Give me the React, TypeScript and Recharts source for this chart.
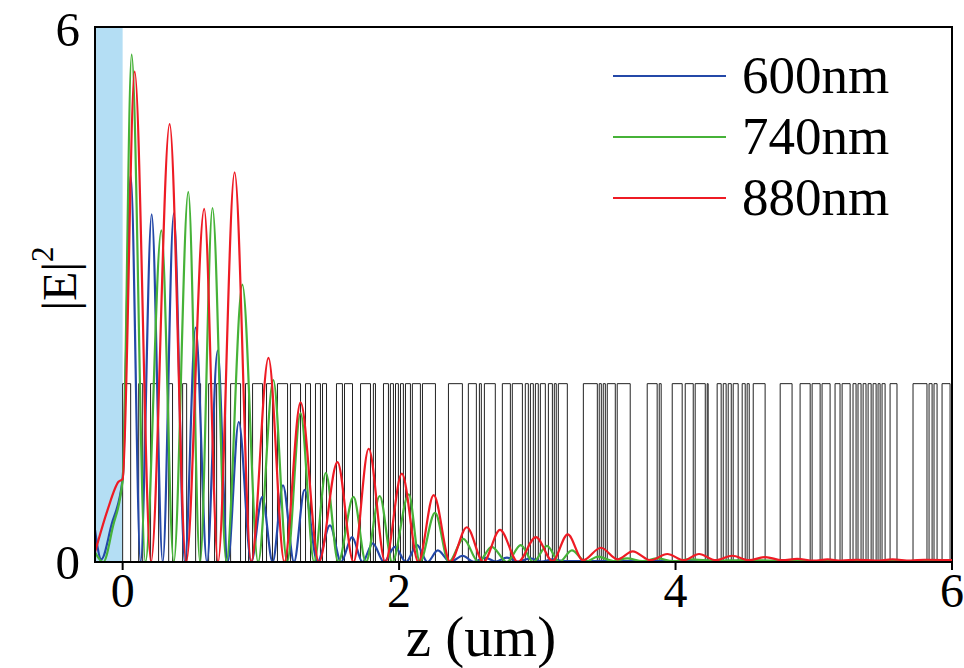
import React from 'react';
import { LineChart, Line, XAxis, YAxis, ReferenceArea, Label } from 'recharts';

// ---------- data ----------
const xTicks = [0, 2, 4, 6];
const yTicks = [0, 6];
const seriesNames = ['600nm', '740nm', '880nm'];
const seriesColors = ['#2448a8', '#46b238', '#ee1b24'];

// |E|^2 along z (um) for each wavelength: peaks and troughs
const blue600: [number, number][] = [
  [-0.2, 0.36], [-0.155, 0.03], [-0.08, 0.42], [0, 0.93], [0.058, 4.34], [0.13, 0],
  [0.21, 3.9], [0.29, 0], [0.37, 3.91], [0.45, 0], [0.528, 2.63], [0.61, 0],
  [0.687, 2.37], [0.76, 0], [0.84, 1.57], [0.93, 0], [1.01, 0.73], [1.085, 0],
  [1.16, 0.86], [1.24, 0], [1.316, 0.81], [1.41, 0], [1.5, 0.41], [1.58, 0],
  [1.66, 0.28], [1.735, 0], [1.81, 0.21], [1.89, 0], [1.97, 0.17], [2.05, 0],
  [2.13, 0.19], [2.205, 0], [2.28, 0.13], [2.37, 0], [2.46, 0.07], [2.54, 0.003],
  [2.62, 0.05], [2.7, 0.005], [2.78, 0.05], [2.86, 0.005], [2.95, 0.04], [3.03, 0.005],
  [3.11, 0.03], [3.2, 0.01], [3.5, 0.01], [4.0, 0.01], [5.0, 0.01], [6.0, 0.01],
];

const green740: [number, number][] = [
  [-0.2, 0.11], [-0.14, 0], [-0.07, 0.4], [0, 0.92], [0.065, 5.69], [0.165, 0],
  [0.28, 3.72], [0.37, 0], [0.475, 4.15], [0.56, 0], [0.65, 3.97], [0.75, 0],
  [0.866, 3.11], [0.98, 0], [1.09, 2.04], [1.19, 0], [1.287, 1.67], [1.385, 0],
  [1.47, 1.0], [1.56, 0], [1.67, 0.73], [1.76, 0], [1.86, 0.74], [1.95, 0],
  [2.07, 0.76], [2.15, 0], [2.26, 0.55], [2.36, 0], [2.465, 0.26], [2.575, 0],
  [2.67, 0.17], [2.78, 0], [2.88, 0.19], [2.97, 0], [3.07, 0.18], [3.16, 0],
  [3.25, 0.13], [3.35, 0.005], [3.44, 0.06], [3.55, 0.01], [3.65, 0.04], [3.76, 0.01],
  [3.87, 0.04], [3.98, 0.01], [4.1, 0.03], [4.3, 0.015], [4.5, 0.02], [5.0, 0.01], [6.0, 0.01],
];

const red880: [number, number][] = [
  [-0.2, 0.11], [-0.11, 0.58], [-0.03, 0.9], [0, 0.93], [0.087, 5.5], [0.205, 0],
  [0.34, 4.91], [0.46, 0], [0.59, 3.96], [0.69, 0], [0.81, 4.37], [0.93, 0],
  [1.055, 2.29], [1.17, 0], [1.287, 1.79], [1.42, 0], [1.554, 1.12], [1.67, 0],
  [1.78, 1.27], [1.9, 0], [2.02, 0.99], [2.14, 0], [2.25, 0.75], [2.37, 0],
  [2.49, 0.39], [2.61, 0], [2.73, 0.36], [2.86, 0], [2.99, 0.28], [3.11, 0.01],
  [3.22, 0.31], [3.33, 0.02], [3.46, 0.16], [3.58, 0.03], [3.69, 0.12], [3.82, 0.02],
  [3.94, 0.09], [4.06, 0.02], [4.17, 0.09], [4.29, 0.02], [4.41, 0.07], [4.53, 0.02],
  [4.65, 0.055], [4.77, 0.02], [4.88, 0.035], [5.0, 0.015], [5.1, 0.03], [5.2, 0.015],
  [5.31, 0.025], [5.45, 0.015], [5.57, 0.03], [5.7, 0.015], [5.8, 0.025], [6.0, 0.02],
];

// high-index layers [start, end] in um
const layers: [number, number][] = [
  [0, 0.058], [0.116, 0.145], [0.202, 0.26], [0.333, 0.361], [0.434, 0.463],
  [0.528, 0.564], [0.622, 0.665], [0.68, 0.745], [0.781, 0.853], [0.889, 0.911],
  [0.94, 1.012], [1.041, 1.084], [1.12, 1.193], [1.214, 1.287], [1.323, 1.359],
  [1.395, 1.431], [1.446, 1.475], [1.547, 1.59], [1.605, 1.663], [1.721, 1.793],
  [1.814, 1.829], [1.887, 1.923], [1.937, 1.959], [1.974, 1.995], [2.01, 2.031],
  [2.046, 2.082], [2.096, 2.154], [2.169, 2.263], [2.357, 2.458], [2.501, 2.559],
  [2.581, 2.595], [2.617, 2.696], [2.747, 2.805], [2.819, 2.892], [2.913, 2.935],
  [2.95, 2.971], [2.986, 3.007], [3.022, 3.058], [3.08, 3.109], [3.123, 3.137],
  [3.152, 3.217], [3.333, 3.434], [3.448, 3.463], [3.477, 3.492], [3.506, 3.564],
  [3.578, 3.672], [3.795, 3.867], [3.882, 3.896], [3.976, 4.048], [4.07, 4.128],
  [4.142, 4.215], [4.229, 4.236], [4.301, 4.33], [4.345, 4.366], [4.381, 4.403],
  [4.417, 4.453], [4.482, 4.504], [4.518, 4.533], [4.562, 4.648], [4.757, 4.843],
  [4.901, 4.974], [4.988, 5.046], [5.06, 5.118], [5.154, 5.19], [5.205, 5.263],
  [5.284, 5.306], [5.32, 5.342], [5.357, 5.378], [5.393, 5.415], [5.429, 5.451],
  [5.465, 5.48], [5.494, 5.516], [5.552, 5.602], [5.718, 5.819], [5.834, 5.856],
  [5.87, 5.892], [5.928, 5.986],
];
const layerLevel = 2;

// ---------- helpers ----------
const toPoints = (arr: [number, number][]) => arr.map(([z, v]) => ({ z, v }));
const stepPoints = (spans: [number, number][]) => {
  const pts: { z: number; v: number }[] = [{ z: 0, v: 0 }];
  spans.forEach(([a, b]) => {
    pts.push({ z: a, v: layerLevel });
    pts.push({ z: b, v: 0 });
  });
  pts.push({ z: 6, v: 0 });
  return pts;
};

const FONT = '"Liberation Serif", "DejaVu Serif", serif';

const YLabel = (props: any) => {
  const vb = props.viewBox || { x: 8, y: 27, width: 87, height: 535 };
  const x = vb.x + 51;
  const y = vb.y + vb.height / 2 - 16;
  return (
    <text
      x={x}
      y={y}
      transform={`rotate(-90 ${x} ${y})`}
      textAnchor="middle"
      dominantBaseline="central"
      fontFamily={FONT}
      fontSize={48}
      fill="#000"
    >
      |E|<tspan dy={-17} fontSize={31}>2</tspan>
    </text>
  );
};

const XLabel = (props: any) => {
  const vb = props.viewBox || { x: 95, y: 562, width: 857, height: 100 };
  const x = vb.x + 386;
  const y = vb.y + 94;
  return (
    <text x={x} y={y} textAnchor="middle" fontFamily={FONT} fontSize={57} fill="#000">
      z (um)
    </text>
  );
};

const series = [blue600, green740, red880];

export default function App() {
  return (
    <div style={{ position: 'absolute', left: 0, top: 0, width: 964, height: 668 }}>
      <LineChart
        width={964}
        height={668}
        margin={{ top: 27, right: 12, left: 8, bottom: 6 }}
      >
        <XAxis
          type="number"
          dataKey="z"
          domain={[-0.2, 6]}
          ticks={xTicks}
          allowDataOverflow
          tickSize={8}
          tickMargin={3}
          height={100}
          axisLine={{ stroke: '#000', strokeWidth: 2 }}
          tickLine={{ stroke: '#000', strokeWidth: 2 }}
          tick={{ fill: '#000', fontSize: 48, fontFamily: FONT }}
        >
          <Label content={XLabel} />
        </XAxis>
        <YAxis
          type="number"
          domain={[0, 6]}
          ticks={yTicks}
          allowDataOverflow
          width={87}
          tickLine={false}
          tickMargin={9}
          axisLine={{ stroke: '#000', strokeWidth: 2 }}
          tick={{ fill: '#000', fontSize: 49, fontFamily: FONT }}
        >
          <Label content={YLabel} />
        </YAxis>
        <ReferenceArea x1={-0.2} x2={0} y1={0} y2={6} fill="#b4def4" fillOpacity={1} stroke="none" ifOverflow="hidden" />
        <Line
          data={stepPoints(layers)}
          dataKey="v"
          type="stepAfter"
          stroke="#222"
          strokeWidth={1}
          dot={false}
          isAnimationActive={false}
        />
        {series.map((s, i) => (
          <Line
            key={seriesNames[i]}
            data={toPoints(s)}
            dataKey="v"
            name={seriesNames[i]}
            type="monotone"
            stroke={seriesColors[i]}
            strokeWidth={2.2}
            dot={false}
            isAnimationActive={false}
          />
        ))}
        <ReferenceArea x1={-0.2} x2={6} y1={0} y2={6} fill="none" stroke="#000" strokeWidth={2} ifOverflow="visible" />
      </LineChart>
      <div
        style={{
          position: 'absolute',
          left: 613,
          top: 45,
          fontFamily: FONT,
          fontSize: 53,
          color: '#000',
        }}
      >
        {seriesNames.map((n, i) => (
          <div key={n} style={{ display: 'flex', alignItems: 'center', height: 61 }}>
            <div style={{ width: 113, height: 2, background: seriesColors[i], marginRight: 16 }} />
            <span style={{ lineHeight: '61px' }}>{n}</span>
          </div>
        ))}
      </div>
    </div>
  );
}
